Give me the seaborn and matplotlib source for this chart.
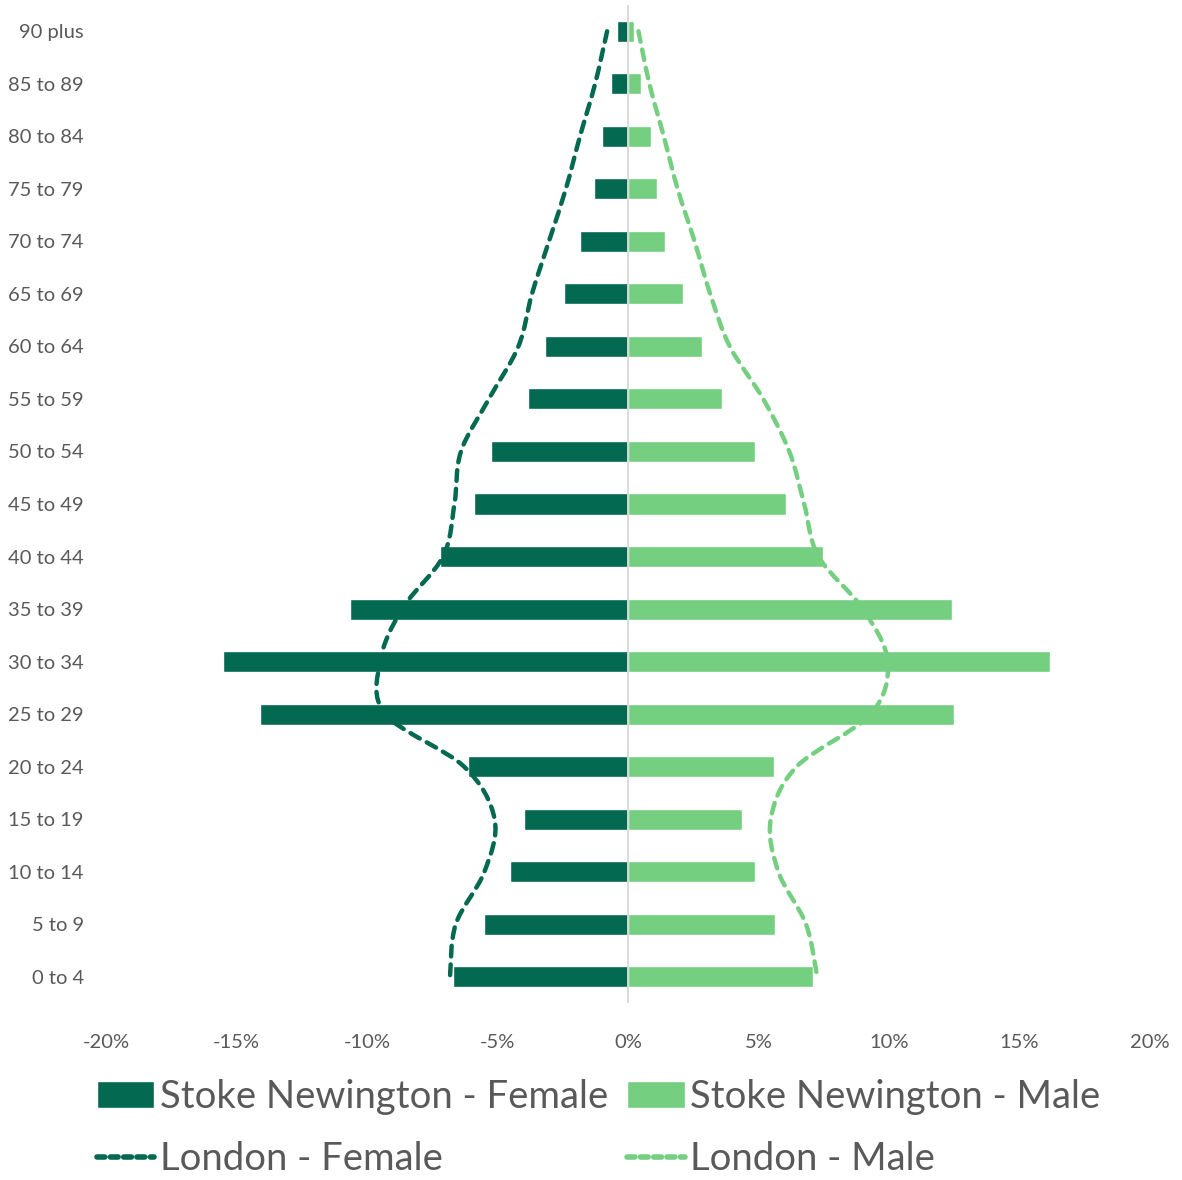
import numpy as np
import pandas as pd
import matplotlib
matplotlib.use("Agg")
import matplotlib.pyplot as plt
import seaborn as sns
from matplotlib.path import Path
from matplotlib.patches import PathPatch, Patch
from matplotlib.lines import Line2D
from matplotlib.ticker import FuncFormatter

# age bands, top of the pyramid first
age_groups = ["90 plus", "85 to 89", "80 to 84", "75 to 79", "70 to 74", "65 to 69",
              "60 to 64", "55 to 59", "50 to 54", "45 to 49", "40 to 44", "35 to 39",
              "30 to 34", "25 to 29", "20 to 24", "15 to 19", "10 to 14", "5 to 9", "0 to 4"]

# share of population (%)
sn_female = [0.42, 0.66, 1.0, 1.3, 1.84, 2.44, 3.18, 3.84, 5.25, 5.9, 7.21, 10.65,
             15.5, 14.09, 6.12, 3.98, 4.53, 5.52, 6.72]
sn_male = [0.23, 0.48, 0.87, 1.12, 1.41, 2.1, 2.84, 3.61, 4.88, 6.05, 7.48, 12.4,
           16.16, 12.5, 5.6, 4.35, 4.88, 5.65, 7.08]
london_female = [0.8, 1.26, 1.84, 2.38, 3.03, 3.68, 4.2, 5.33, 6.4, 6.65, 7.09, 8.66,
                 9.5, 9.3, 6.28, 5.11, 5.5, 6.6, 6.82]
london_male = [0.4, 0.82, 1.37, 1.9, 2.55, 3.15, 3.9, 5.18, 6.18, 6.75, 7.3, 9.0,
               9.95, 9.3, 6.46, 5.47, 5.76, 6.82, 7.25]

DARK = "#036950"
LIGHT = "#75CF80"
GREY = "#595959"

sns.set_style("white")
plt.rcParams["font.family"] = ["Lato", "DejaVu Sans"]


def smooth_path(xs, ys):
    # excel-like smoothed line: bezier segments through each point
    pts = np.column_stack([xs, ys]).astype(float)
    n = len(pts)
    verts = [pts[0]]
    codes = [Path.MOVETO]
    for i in range(n - 1):
        p0 = pts[i - 1] if i > 0 else pts[i]
        p1, p2 = pts[i], pts[i + 1]
        p3 = pts[i + 2] if i + 2 < n else pts[i + 1]
        verts += [p1 + (p2 - p0) / 6, p2 - (p3 - p1) / 6, p2]
        codes += [Path.CURVE4] * 3
    return Path(verts, codes)


df = pd.DataFrame({
    "age": age_groups * 2,
    "value": [-v for v in sn_female] + sn_male,
    "series": ["Stoke Newington - Female"] * len(age_groups) + ["Stoke Newington - Male"] * len(age_groups),
})

fig = plt.figure(figsize=(11.82, 11.80), dpi=100)
ax = fig.add_axes([106 / 1182, 1 - 1003 / 1180, (1150 - 106) / 1182, (1003 - 5) / 1180])

sns.barplot(data=df, x="value", y="age", hue="series", order=age_groups,
            hue_order=["Stoke Newington - Female", "Stoke Newington - Male"],
            palette=[DARK, LIGHT], saturation=1, dodge=False, width=0.4,
            orient="h", legend=False, ax=ax)

ypos = np.arange(len(age_groups))
dash = (0, (2.4, 1.8))
for vals, sign, col in [(london_female, -1, DARK), (london_male, 1, LIGHT)]:
    patch = PathPatch(smooth_path(sign * np.array(vals), ypos), facecolor="none",
                      edgecolor=col, lw=3.2, linestyle=dash, capstyle="round", zorder=4)
    ax.add_patch(patch)

ax.axvline(0, color="#D9D9D9", lw=1.3, zorder=3)

ax.set_xlim(-20, 20)
ax.set_ylim(len(age_groups) - 0.5, -0.5)
ax.set_xticks(np.arange(-20, 21, 5))
ax.xaxis.set_major_formatter(FuncFormatter(lambda v, p: f"{int(v)}%"))
ax.set_xlabel("")
ax.set_ylabel("")
ax.tick_params(axis="x", length=0, pad=22, labelsize=14.5, labelcolor=GREY)
ax.tick_params(axis="y", length=0, pad=16, labelsize=14.5, labelcolor=GREY)
for s in ax.spines.values():
    s.set_visible(False)

handles = [
    Patch(facecolor=DARK),
    Line2D([], [], color=DARK, lw=4, linestyle=(0, (1.4, 1.0)), dash_capstyle="round"),
    Patch(facecolor=LIGHT),
    Line2D([], [], color=LIGHT, lw=4, linestyle=(0, (1.4, 1.0)), dash_capstyle="round"),
]
labels = ["Stoke Newington - Female", "London - Female",
          "Stoke Newington - Male", "London - Male"]
fig.legend(handles, labels, ncol=2, loc="upper left", bbox_to_anchor=(97 / 1182, 1 - 1079 / 1180),
           frameon=False, fontsize=27.5, labelcolor=GREY, handlelength=1.5,
           handletextpad=0.15, columnspacing=0.5, labelspacing=0.68, borderpad=0,
           borderaxespad=0)

fig.savefig("out.png", dpi=100)
